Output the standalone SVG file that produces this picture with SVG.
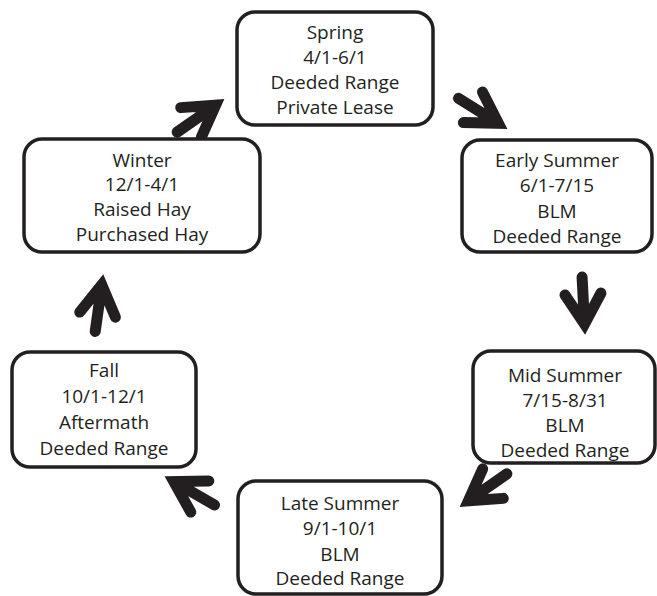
<svg xmlns="http://www.w3.org/2000/svg" xmlns:xlink="http://www.w3.org/1999/xlink" width="657" height="596" viewBox="0 0 657 596">
<style>
.box{fill:#fff;stroke:#231f20;stroke-width:3.5}
.t{font-family:"Open Sans","Liberation Sans",sans-serif;font-size:19px;fill:#231f20;text-anchor:middle}
.arr{fill:none;stroke:#231f20;stroke-width:11;stroke-linecap:round;stroke-linejoin:miter}
</style>
<defs>
<path id="arrow" class="arr" d="M-56,0 L-12,0 M-39,-18 L-9,0 L-39,18"/>
</defs>
<rect width="657" height="596" fill="#fff"/>
<g id="connectors">
<use xlink:href="#arrow" transform="translate(223,100) rotate(-35)"/>
<use xlink:href="#arrow" transform="translate(506,128) rotate(32)"/>
<use xlink:href="#arrow" transform="translate(585,333) rotate(87)"/>
<use xlink:href="#arrow" transform="translate(461,506) rotate(145)"/>
<use xlink:href="#arrow" transform="translate(166,477) rotate(210)"/>
<use xlink:href="#arrow" transform="translate(103,276) rotate(-82)"/>
</g>
<g id="spring">
<rect class="box" x="237" y="12" width="196" height="113" rx="18"/>
<text class="t" x="335" y="39">Spring</text>
<text class="t" x="335" y="64">4/1-6/1</text>
<text class="t" x="335" y="89">Deeded Range</text>
<text class="t" x="335" y="114">Private Lease</text>
</g>
<g id="early-summer">
<rect class="box" x="462" y="140" width="190" height="112" rx="18"/>
<text class="t" x="557" y="167">Early Summer</text>
<text class="t" x="557" y="192">6/1-7/15</text>
<text class="t" x="557" y="218">BLM</text>
<text class="t" x="557" y="243">Deeded Range</text>
</g>
<g id="mid-summer">
<rect class="box" x="473" y="351" width="182" height="112" rx="18"/>
<text class="t" x="565" y="382">Mid Summer</text>
<text class="t" x="565" y="407">7/15-8/31</text>
<text class="t" x="565" y="432">BLM</text>
<text class="t" x="565" y="457">Deeded Range</text>
</g>
<g id="late-summer">
<rect class="box" x="238" y="481" width="204" height="113" rx="18"/>
<text class="t" x="340" y="510">Late Summer</text>
<text class="t" x="340" y="535">9/1-10/1</text>
<text class="t" x="340" y="561">BLM</text>
<text class="t" x="340" y="585">Deeded Range</text>
</g>
<g id="fall">
<rect class="box" x="12" y="352" width="184" height="115" rx="18"/>
<text class="t" x="104" y="377">Fall</text>
<text class="t" x="104" y="403">10/1-12/1</text>
<text class="t" x="104" y="429">Aftermath</text>
<text class="t" x="104" y="455">Deeded Range</text>
</g>
<g id="winter">
<rect class="box" x="24" y="139" width="236" height="113" rx="18"/>
<text class="t" x="142" y="167">Winter</text>
<text class="t" x="142" y="191">12/1-4/1</text>
<text class="t" x="142" y="216">Raised Hay</text>
<text class="t" x="142" y="241">Purchased Hay</text>
</g>
</svg>
